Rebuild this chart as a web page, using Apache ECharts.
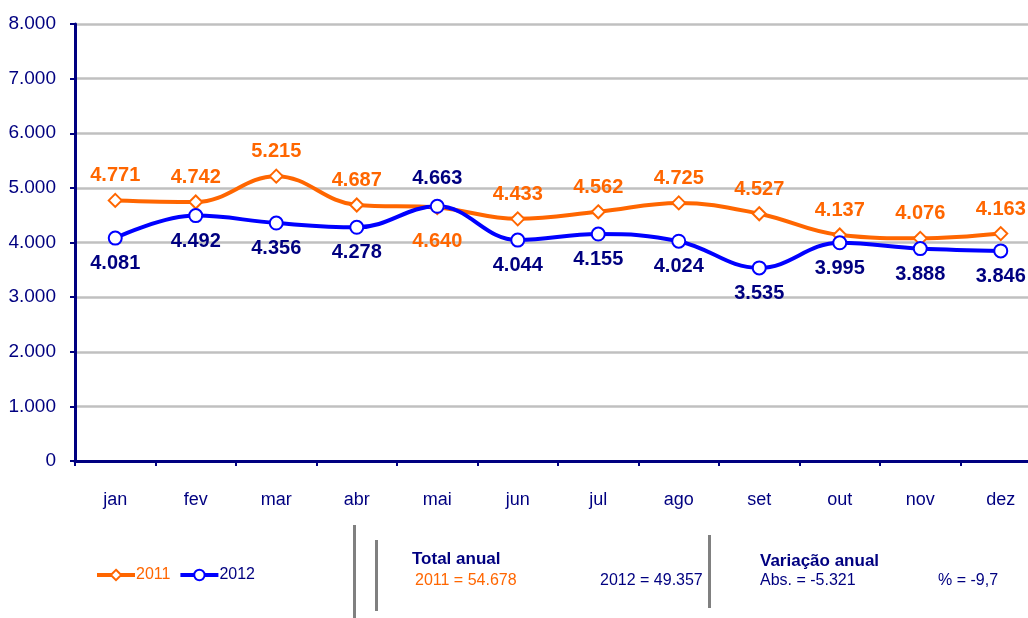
<!DOCTYPE html>
<html>
<head>
<meta charset="utf-8">
<script src="https://cdn.jsdelivr.net/npm/echarts@6/dist/echarts.min.js"></script>
<style>
  html, body { margin: 0; padding: 0; background: #fff; }
  #main { width: 1028px; height: 618px; }
</style>
</head>
<body>
<div id="main"></div>
<script>
// meses
var months = ['jan', 'fev', 'mar', 'abr', 'mai', 'jun', 'jul', 'ago', 'set', 'out', 'nov', 'dez'];
var yTicks = [0, 1000, 2000, 3000, 4000, 5000, 6000, 7000, 8000];
var serie2011 = [4771, 4742, 5215, 4687, 4640, 4433, 4562, 4725, 4527, 4137, 4076, 4163];
var serie2012 = [4081, 4492, 4356, 4278, 4663, 4044, 4155, 4024, 3535, 3995, 3888, 3846];
// rótulos que ficam do lado contrário
var below2011 = ['mai'];
var above2012 = ['mai'];
var total2011 = '54.678';
var total2012 = '49.357';
var varAbs = '-5.321';
var varPct = '-9,7';

var FONT = '"Liberation Sans Narrow", "Arial Narrow", "Liberation Sans", sans-serif';
var ORANGE = '#ff6600';
var NAVY = '#000080';

function fmt(v) {
  var s = String(Math.round(v));
  return s.replace(/\B(?=(\d{3})+(?!\d))/g, '.');
}

var data2011 = serie2011.map(function (v, i) {
  var down = below2011.indexOf(months[i]) >= 0;
  return { value: v, label: { position: down ? 'bottom' : 'top', distance: down ? 16 : 7 } };
});
var data2012 = serie2012.map(function (v, i) {
  var up = above2012.indexOf(months[i]) >= 0;
  return { value: v, label: { position: up ? 'top' : 'bottom', distance: up ? 10 : 8 } };
});

var myChart = echarts.init(document.getElementById('main'));
var option = {
  animation: false,
  grid: { left: 75, width: 966, top: 24, bottom: 157, outerBoundsMode: 'none', containLabel: false },
  xAxis: {
    type: 'category',
    data: months,
    boundaryGap: true,
    axisLine: { lineStyle: { color: NAVY, width: 3 } },
    axisTick: { show: true, length: 5, lineStyle: { color: NAVY, width: 2 } },
    axisLabel: { color: NAVY, fontFamily: FONT, fontSize: 18, margin: 30 }
  },
  yAxis: {
    type: 'value',
    min: yTicks[0],
    max: yTicks[yTicks.length - 1],
    interval: 1000,
    axisLine: { show: true, lineStyle: { color: NAVY, width: 3 } },
    axisTick: { show: true, length: 5, lineStyle: { color: NAVY, width: 2 } },
    axisLabel: { color: NAVY, fontFamily: FONT, fontSize: 19, margin: 19, formatter: fmt },
    splitLine: { lineStyle: { color: '#c0c0c0', width: 2.5 } }
  },
  legend: {
    left: 90,
    top: 562,
    itemWidth: 38,
    itemHeight: 13,
    itemGap: 8,
    data: [
      { name: '2011', textStyle: { color: ORANGE } },
      { name: '2012', textStyle: { color: NAVY } }
    ],
    lineStyle: { width: 4 },
    textStyle: { fontFamily: FONT, fontSize: 16, padding: [0, 0, 0, -4] }
  },
  series: [{
    name: '2011',
    type: 'line',
    smooth: 0.4,
    data: data2011,
    symbol: 'emptyDiamond',
    symbolSize: 13,
    itemStyle: { color: ORANGE, borderColor: ORANGE, borderWidth: 2.5 },
    lineStyle: { color: ORANGE, width: 4 },
    label: {
      show: true, color: ORANGE, fontFamily: FONT, fontSize: 20, fontWeight: 'bold',
      formatter: function (p) { return fmt(p.value); }
    }
  }, {
    name: '2012',
    type: 'line',
    smooth: 0.4,
    data: data2012,
    symbol: 'emptyCircle',
    symbolSize: 13,
    itemStyle: { color: '#0000ff', borderColor: '#0000ff', borderWidth: 3 },
    lineStyle: { color: '#0000ff', width: 4 },
    label: {
      show: true, color: NAVY, fontFamily: FONT, fontSize: 20, fontWeight: 'bold',
      formatter: function (p) { return fmt(p.value); }
    }
  }],
  graphic: [
    { type: 'rect', shape: { x: 353, y: 525, width: 3, height: 93 }, style: { fill: '#808080' } },
    { type: 'rect', shape: { x: 375, y: 540, width: 3, height: 71 }, style: { fill: '#808080' } },
    { type: 'rect', shape: { x: 708, y: 535, width: 3, height: 73 }, style: { fill: '#808080' } },
    { type: 'text', x: 412, y: 551, style: { text: 'Total anual', fill: NAVY, font: 'bold 17px ' + FONT } },
    { type: 'text', x: 415, y: 573, style: { text: '2011 = ' + total2011, fill: ORANGE, font: '16px ' + FONT } },
    { type: 'text', x: 600, y: 573, style: { text: '2012 = ' + total2012, fill: NAVY, font: '16px ' + FONT } },
    { type: 'text', x: 760, y: 553, style: { text: 'Variação anual', fill: NAVY, font: 'bold 17px ' + FONT } },
    { type: 'text', x: 760, y: 573, style: { text: 'Abs. = ' + varAbs, fill: NAVY, font: '16px ' + FONT } },
    { type: 'text', x: 938, y: 573, style: { text: '% = ' + varPct, fill: NAVY, font: '16px ' + FONT } }
  ]
};
myChart.setOption(option);
</script>
</body>
</html>
